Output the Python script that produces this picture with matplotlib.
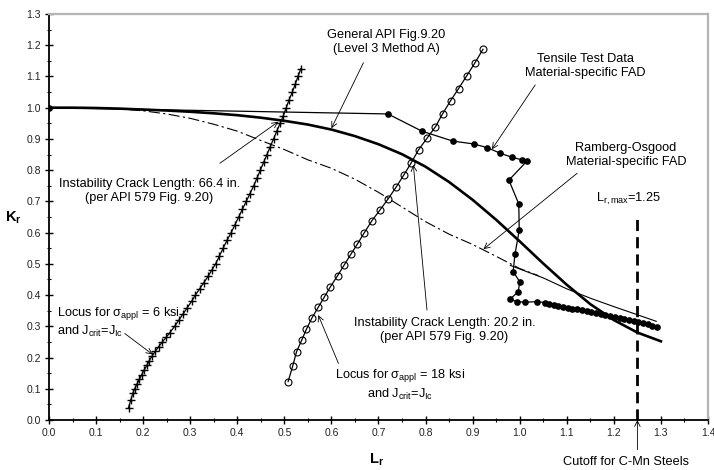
import matplotlib.pyplot as plt
from matplotlib.ticker import MultipleLocator, FormatStrFormatter

plt.rcParams['font.family'] = ['Liberation Sans', 'DejaVu Sans']
plt.rcParams['mathtext.fontset'] = 'custom'
plt.rcParams['mathtext.rm'] = 'Liberation Sans'
plt.rcParams['mathtext.it'] = 'Liberation Sans'
plt.rcParams['mathtext.bf'] = 'Liberation Sans:bold'

# General API FAD (Level 3 Method A)
api_lr = [0.0, 0.05, 0.1, 0.15, 0.2, 0.25, 0.3, 0.35, 0.4, 0.45, 0.5, 0.55, 0.6, 0.65,
          0.7, 0.75, 0.8, 0.85, 0.9, 0.95, 1.0, 1.05, 1.1, 1.15, 1.2, 1.25, 1.3]
api_kr = [1.0, 1.0, 0.999, 0.997, 0.994, 0.991, 0.987, 0.982, 0.976, 0.968, 0.958, 0.946,
          0.930, 0.909, 0.883, 0.851, 0.811, 0.762, 0.705, 0.641, 0.572, 0.501, 0.433,
          0.371, 0.320, 0.280, 0.252]

# Ramberg-Osgood material-specific FAD
ro_lr = [0.0, 0.1, 0.15, 0.2, 0.25, 0.3, 0.35, 0.4, 0.45, 0.5, 0.55, 0.6, 0.65, 0.7,
         0.75, 0.8, 0.85, 0.9, 0.95, 1.0, 1.04]
ro_kr = [1.0, 0.999, 0.996, 0.99, 0.98, 0.966, 0.947, 0.925, 0.895, 0.866, 0.833, 0.806,
         0.771, 0.729, 0.682, 0.635, 0.595, 0.562, 0.524, 0.485, 0.462]
ro_tail_lr = [0.98, 1.05, 1.1, 1.15, 1.2, 1.25, 1.29]
ro_tail_kr = [0.495, 0.455, 0.42, 0.39, 0.363, 0.337, 0.316]

# Tensile test data material-specific FAD
td_lr = [0.0, 0.720, 0.792, 0.858, 0.902, 0.931, 0.959, 0.984, 1.005, 1.016, 0.977, 0.998,
         0.999, 0.990, 0.986, 1.000, 0.997, 0.979, 0.995, 1.011, 1.036, 1.054, 1.062, 1.072,
         1.082, 1.092, 1.102, 1.112, 1.122, 1.132, 1.142, 1.152, 1.162, 1.172, 1.182, 1.192,
         1.202, 1.212, 1.222, 1.232, 1.242, 1.252, 1.262, 1.272, 1.282, 1.292]
td_kr = [1.0, 0.980, 0.925, 0.893, 0.884, 0.872, 0.854, 0.841, 0.833, 0.830, 0.768, 0.692,
         0.608, 0.531, 0.475, 0.443, 0.411, 0.386, 0.379, 0.377, 0.379, 0.376, 0.372, 0.368,
         0.365, 0.362, 0.360, 0.357, 0.355, 0.352, 0.350, 0.347, 0.344, 0.340, 0.337, 0.334,
         0.330, 0.327, 0.323, 0.320, 0.316, 0.313, 0.309, 0.306, 0.302, 0.298]

# Locus for sigma_appl = 6 ksi
l6_lr = [0.169, 0.174, 0.178, 0.182, 0.187, 0.192, 0.197, 0.202, 0.208, 0.213, 0.219, 0.226,
         0.233, 0.241, 0.249, 0.257, 0.267, 0.276, 0.285, 0.294, 0.303, 0.311, 0.320, 0.329,
         0.338, 0.346, 0.354, 0.362, 0.370, 0.378, 0.387, 0.395, 0.403, 0.411, 0.419, 0.427,
         0.435, 0.442, 0.449, 0.456, 0.463, 0.470, 0.477, 0.484, 0.491, 0.498, 0.504, 0.510,
         0.517, 0.523, 0.529, 0.535]
l6_kr = [0.04, 0.065, 0.085, 0.10, 0.115, 0.13, 0.145, 0.16, 0.175, 0.19, 0.205, 0.22,
         0.235, 0.25, 0.265, 0.28, 0.30, 0.32, 0.34, 0.36, 0.38, 0.40, 0.42, 0.44, 0.46,
         0.48, 0.50, 0.525, 0.55, 0.575, 0.60, 0.625, 0.65, 0.675, 0.70, 0.725, 0.75, 0.775,
         0.80, 0.825, 0.85, 0.875, 0.90, 0.925, 0.95, 0.975, 1.00, 1.025, 1.05, 1.075, 1.10,
         1.125]

# Locus for sigma_appl = 18 ksi
l18_lr = [0.508, 0.518, 0.526, 0.537, 0.547, 0.559, 0.572, 0.585, 0.598, 0.613, 0.627,
          0.641, 0.655, 0.670, 0.686, 0.703, 0.720, 0.738, 0.754, 0.769, 0.785, 0.803,
          0.821, 0.836, 0.853, 0.870, 0.887, 0.905, 0.922]
l18_kr = [0.123, 0.174, 0.219, 0.256, 0.291, 0.328, 0.361, 0.394, 0.427, 0.462, 0.496,
          0.530, 0.563, 0.600, 0.638, 0.672, 0.707, 0.747, 0.785, 0.822, 0.865, 0.902,
          0.939, 0.980, 1.022, 1.061, 1.101, 1.144, 1.187]

lr_max = 1.25
lr_max_top = 0.65

fig = plt.figure(figsize=(7.14, 4.70), dpi=100)
ax = fig.add_axes([0.0686, 0.1064, 0.9230, 0.8638])

ax.plot(ro_lr, ro_kr, color='black', lw=0.8, dashes=(10, 3, 2, 3), zorder=2)
ax.plot(ro_tail_lr, ro_tail_kr, color='black', lw=0.8, zorder=2)
ax.plot(api_lr, api_kr, color='black', lw=1.9, zorder=3)
ax.plot(td_lr, td_kr, color='black', lw=0.9, marker='o', ms=3.8, zorder=4)
ax.plot(l6_lr, l6_kr, color='black', lw=0.9, marker='+', ms=6, mew=1.0, zorder=4)
ax.plot(l18_lr, l18_kr, color='black', lw=0.9, marker='o', ms=5, mfc='none',
        mew=0.8, zorder=4)
ax.plot([lr_max, lr_max], [0, lr_max_top], color='black', lw=2.0, dashes=(4, 2.2), zorder=3)

ax.set_xlim(0, 1.4)
ax.set_ylim(0, 1.3)
ax.xaxis.set_major_locator(MultipleLocator(0.1))
ax.xaxis.set_minor_locator(MultipleLocator(0.05))
ax.yaxis.set_major_locator(MultipleLocator(0.1))
ax.yaxis.set_minor_locator(MultipleLocator(0.05))
ax.xaxis.set_major_formatter(FormatStrFormatter('%.1f'))
ax.yaxis.set_major_formatter(FormatStrFormatter('%.1f'))
ax.tick_params(which='major', direction='inout', length=6, width=1.0, labelsize=7.5, pad=3,
               colors='black', labelcolor='#222222')
ax.tick_params(which='minor', direction='inout', length=3, width=0.8)

for s in ['left', 'bottom']:
    ax.spines[s].set_linewidth(1.3)
for s in ['top', 'right']:
    ax.spines[s].set_color('#b4b4b4')
    ax.spines[s].set_linewidth(1.6)

fig.text(0.018, 0.536, r'$\mathbf{K}_\mathbf{r}$', fontsize=10.5, ha='center', va='center')
fig.text(0.528, 0.021, r'$\mathbf{L}_\mathbf{r}$', fontsize=10.5, ha='center', va='center')

fs = 9.2
arr = dict(arrowstyle='->', lw=0.6, color='black', shrinkA=0, shrinkB=0)

ax.text(0.717, 1.21, 'General API Fig.9.20\n(Level 3 Method A)', fontsize=fs,
        ha='center', va='center', linespacing=1.2)
ax.annotate('', xy=(0.600, 0.934), xytext=(0.668, 1.144), arrowprops=arr)

ax.text(1.139, 1.133, 'Tensile Test Data\nMaterial-specific FAD', fontsize=fs,
        ha='center', va='center', linespacing=1.2)
ax.annotate('', xy=(0.941, 0.867), xytext=(1.033, 1.073), arrowprops=arr)

ax.text(1.226, 0.848, 'Ramberg-Osgood\nMaterial-specific FAD', fontsize=fs,
        ha='center', va='center', linespacing=1.2)
ax.annotate('', xy=(0.923, 0.547), xytext=(1.122, 0.790), arrowprops=arr)

ax.text(1.231, 0.707, r'L$_{\mathrm{r,max}}$=1.25', fontsize=fs, ha='center', va='center')

ax.text(0.213, 0.732, 'Instability Crack Length: 66.4 in.\n(per API 579 Fig. 9.20)',
        fontsize=fs, ha='center', va='center', linespacing=1.2)
ax.annotate('', xy=(0.487, 0.955), xytext=(0.363, 0.822), arrowprops=arr)

ax.text(0.840, 0.288, 'Instability Crack Length: 20.2 in.\n(per API 579 Fig. 9.20)',
        fontsize=fs, ha='center', va='center', linespacing=1.2)
ax.annotate('', xy=(0.774, 0.817), xytext=(0.803, 0.352), arrowprops=arr)

ax.text(0.016, 0.342, r'Locus for $\sigma_{\mathrm{appl}}$ = 6 ksi', fontsize=fs,
        ha='left', va='center')
ax.text(0.016, 0.285, r'and J$_{\mathrm{crit}}$=J$_{\mathrm{Ic}}$', fontsize=fs,
        ha='left', va='center')
ax.annotate('', xy=(0.220, 0.210), xytext=(0.161, 0.277), arrowprops=arr)

ax.text(0.746, 0.144, r'Locus for $\sigma_{\mathrm{appl}}$ = 18 ksi', fontsize=fs,
        ha='center', va='center')
ax.text(0.746, 0.082, r'and J$_{\mathrm{crit}}$=J$_{\mathrm{Ic}}$', fontsize=fs,
        ha='center', va='center')
ax.annotate('', xy=(0.572, 0.336), xytext=(0.615, 0.181), arrowprops=arr)

ax.text(1.226, -0.134, 'Cutoff for C-Mn Steels', fontsize=fs, ha='center', va='center',
        clip_on=False)
ax.annotate('', xy=(lr_max, 0.0), xytext=(lr_max, -0.095), arrowprops=arr,
            annotation_clip=False)

fig.savefig('out.png', dpi=100)
